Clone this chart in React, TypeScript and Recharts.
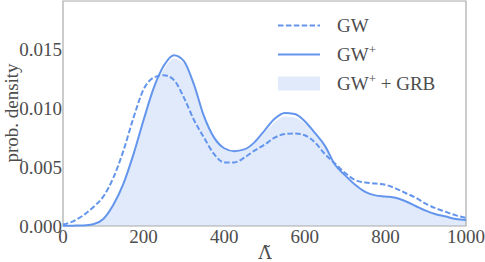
import React from 'react'
import { ComposedChart, Area, Line, XAxis, YAxis, ReferenceArea } from 'recharts'

const lambda = [
  0, 25, 50, 75, 100, 125, 150, 175, 200, 225, 250, 275, 300, 325, 350, 375, 400, 425, 450, 475, 500,
  525, 550, 575, 600, 625, 650, 675, 700, 725, 750, 775, 800, 825, 850, 875, 900, 925, 950, 975, 1000,
]

// GW (dashed)
const gw = [
  0.00012, 0.0004, 0.0009, 0.0016, 0.0025, 0.0041, 0.0064, 0.0092, 0.0116, 0.0126, 0.0128, 0.0124,
  0.0109, 0.009, 0.0075, 0.0061, 0.0054, 0.0054, 0.0058, 0.0064, 0.0069, 0.0075, 0.0078, 0.00786,
  0.0077, 0.0071, 0.0061, 0.0053, 0.0045, 0.0039, 0.0037, 0.0036, 0.0035, 0.0032, 0.0028, 0.0024,
  0.0019, 0.0015, 0.0012, 0.0009, 0.0007,
]

// GW+ (solid)
const gwPlus = [
  0.00002, 0.00003, 0.00005, 0.00015, 0.0006, 0.0018, 0.0036, 0.0061, 0.009, 0.0117, 0.0136, 0.0145,
  0.014, 0.012, 0.0093, 0.0075, 0.0066, 0.00635, 0.0065, 0.0071, 0.0081, 0.0091, 0.0096, 0.0095,
  0.0089, 0.0079, 0.0068, 0.0052, 0.0043, 0.0035, 0.0029, 0.0026, 0.0025, 0.0024, 0.0021, 0.0017,
  0.0013, 0.001, 0.0008, 0.0006, 0.0005,
]

// GW+ + GRB (filled)
const gwPlusGrb = [
  0.00002, 0.00003, 0.00005, 0.00015, 0.0006, 0.0018, 0.0036, 0.006, 0.0089, 0.0115, 0.0133, 0.0142,
  0.0138, 0.0118, 0.0092, 0.0074, 0.0065, 0.0063, 0.0064, 0.007, 0.0079, 0.0088, 0.0093, 0.0092,
  0.0087, 0.0078, 0.0067, 0.0052, 0.0042, 0.0035, 0.0029, 0.0026, 0.0025, 0.0024, 0.0021, 0.0017,
  0.0013, 0.001, 0.0008, 0.0006, 0.0005,
]

const xTicks = [0, 200, 400, 600, 800, 1000]
const yTicks = [0, 0.005, 0.01, 0.015]

const data = lambda.map((x, i) => ({ x, gw: gw[i], gwPlus: gwPlus[i], grb: gwPlusGrb[i] }))

const blue = '#6495ED'
const fillBlue = '#e0eafb'
const textColor = '#4d4d4d'
const font = '"Liberation Serif", "DejaVu Serif", serif'

const LegendBox = () => (
  <div
    style={{
      position: 'absolute',
      left: 278,
      top: 11,
      fontFamily: font,
      fontSize: 19,
      color: textColor,
      lineHeight: '29px',
      whiteSpace: 'nowrap',
    }}
  >
    <div style={{ display: 'flex', alignItems: 'center' }}>
      <svg width={42} height={29}>
        <line x1={0} x2={42} y1={14.5} y2={14.5} stroke={blue} strokeWidth={2} strokeDasharray="5.5 2.4" />
      </svg>
      <span style={{ marginLeft: 17 }}>GW</span>
    </div>
    <div style={{ display: 'flex', alignItems: 'center' }}>
      <svg width={42} height={29}>
        <line x1={0} x2={42} y1={14.5} y2={14.5} stroke={blue} strokeWidth={2} />
      </svg>
      <span style={{ marginLeft: 17 }}>
        GW<sup style={{ fontSize: 13, lineHeight: 0 }}>+</sup>
      </span>
    </div>
    <div style={{ display: 'flex', alignItems: 'center' }}>
      <svg width={42} height={29}>
        <rect x={0} y={7.5} width={42} height={14} fill={fillBlue} />
      </svg>
      <span style={{ marginLeft: 17 }}>
        GW<sup style={{ fontSize: 13, lineHeight: 0 }}>+</sup> + GRB
      </span>
    </div>
  </div>
)

export default function App() {
  return (
    <div style={{ position: 'absolute', left: 0, top: 0, width: 485, height: 262 }}>
      <ComposedChart width={485} height={262} data={data} margin={{ top: 1, right: 19, bottom: 0, left: 0 }}>
        <XAxis
          dataKey="x"
          type="number"
          domain={[0, 1000]}
          ticks={xTicks}
          axisLine={false}
          tickLine={false}
          tickSize={0}
          tickMargin={4}
          tick={{ fill: textColor, fontSize: 19, fontFamily: font }}
          height={36}
          interval={0}
          label={{
            content: () => (
              <text
                x={265}
                y={259}
                textAnchor="middle"
                fill={textColor}
                fontSize={18}
                fontFamily='"DejaVu Serif", serif'
              >
                Λ̃
              </text>
            ),
          }}
        />
        <YAxis
          type="number"
          domain={[0, 0.0191]}
          ticks={yTicks}
          axisLine={false}
          tickLine={false}
          tickSize={0}
          tickMargin={1}
          width={63}
          interval={0}
          tickFormatter={(v: number) => v.toFixed(3)}
          tick={{ fill: textColor, fontSize: 19, fontFamily: font }}
          label={{
            content: () => (
              <text
                x={11}
                y={113}
                textAnchor="middle"
                fill={textColor}
                fontSize={19}
                fontFamily={font}
                transform="rotate(-90 11 113)"
                dominantBaseline="central"
              >
                prob. density
              </text>
            ),
          }}
        />
        <Area
          type="monotone"
          dataKey="grb"
          stroke="none"
          fill={fillBlue}
          fillOpacity={1}
          isAnimationActive={false}
        />
        <Line
          type="monotone"
          dataKey="gw"
          stroke={blue}
          strokeWidth={2}
          strokeDasharray="5.5 2.4"
          dot={false}
          isAnimationActive={false}
        />
        <Line
          type="monotone"
          dataKey="gwPlus"
          stroke={blue}
          strokeWidth={2}
          dot={false}
          isAnimationActive={false}
        />
        <ReferenceArea x1={0} x2={1000} y1={0} y2={0.0191} fill="none" stroke="#aaaaaa" strokeWidth={1.2} />
      </ComposedChart>
      <LegendBox />
    </div>
  )
}
